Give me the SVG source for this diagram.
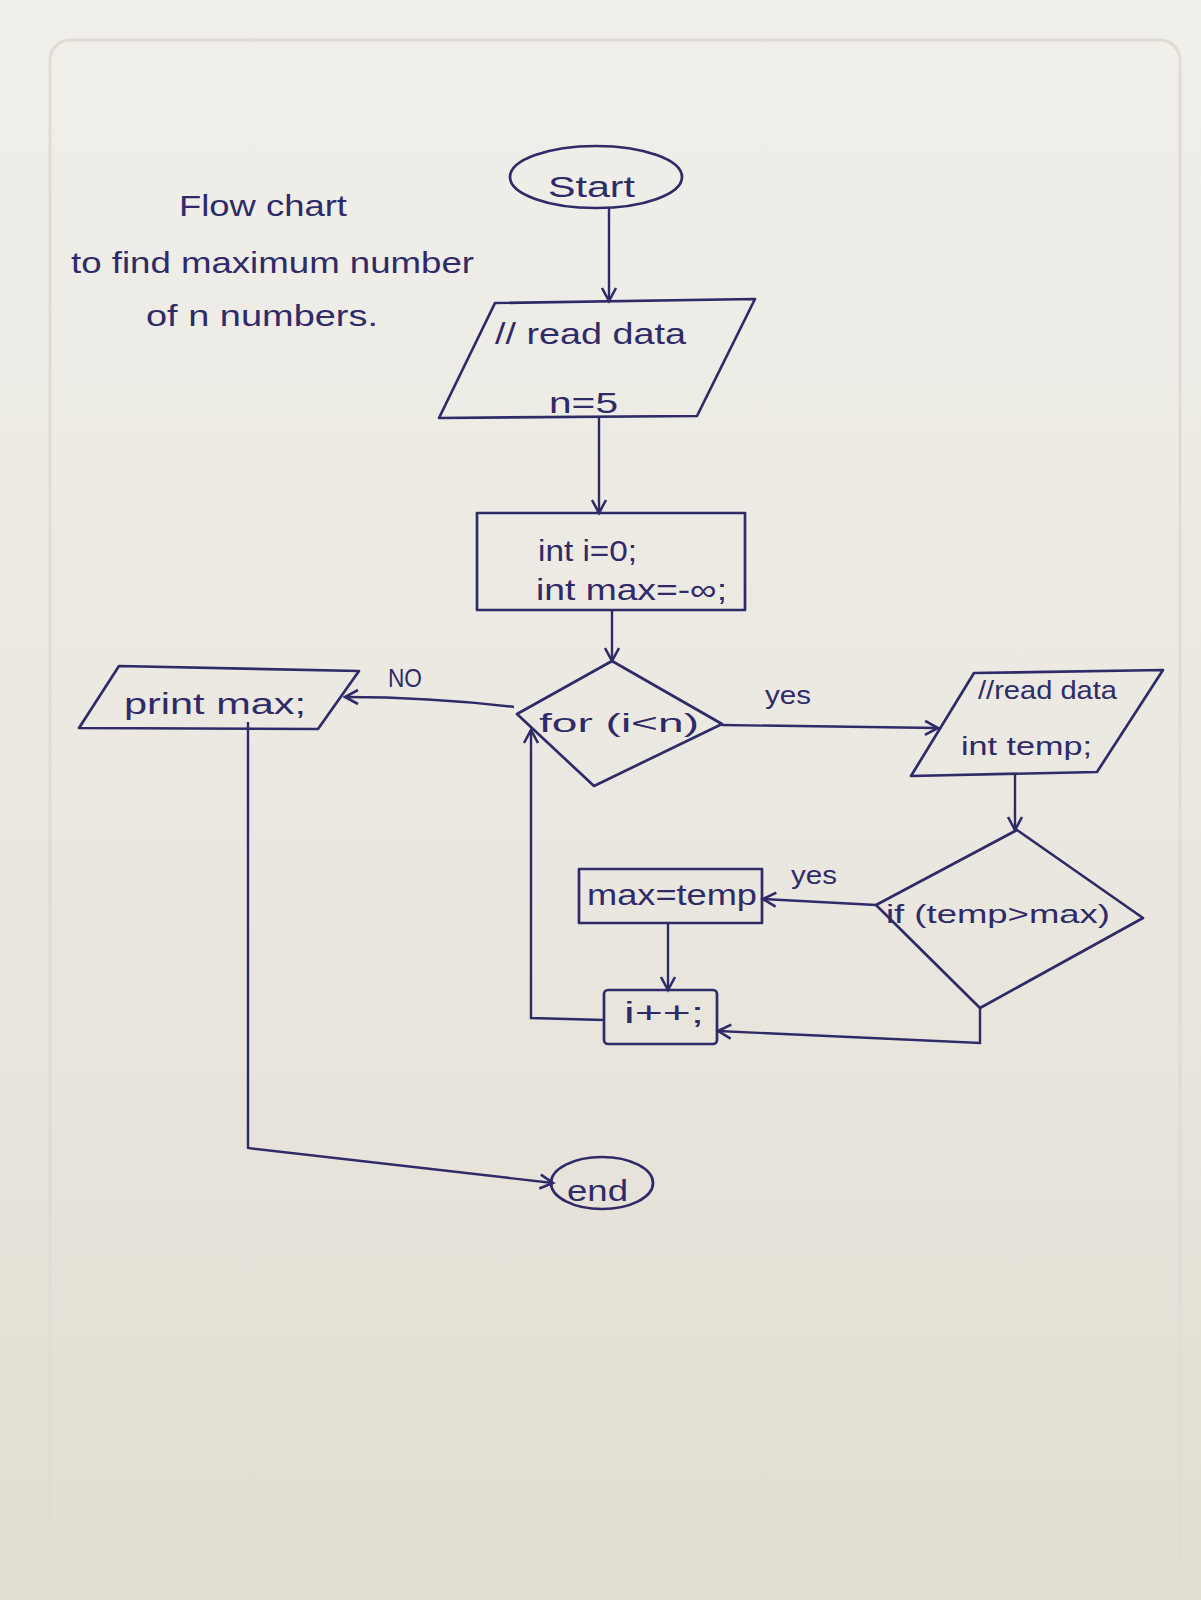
<svg xmlns="http://www.w3.org/2000/svg" width="1201" height="1600" viewBox="0 0 1201 1600">
<defs>
<linearGradient id="paper" x1="0" y1="0" x2="0" y2="1">
<stop offset="0" stop-color="#f1efea"/>
<stop offset="0.5" stop-color="#ebe8e1"/>
<stop offset="1" stop-color="#e2ddd2"/>
</linearGradient>
<marker id="arr" markerUnits="userSpaceOnUse" markerWidth="20" markerHeight="20" refX="15" refY="9" orient="auto">
<path d="M2,2 L15,9 L2,16" fill="none" stroke="#2e2b68" stroke-width="2.6"/>
</marker>
<style>
.s{fill:none;stroke:#2e2b68;stroke-width:2.7;stroke-linejoin:round;stroke-linecap:round}
.c{fill:none;stroke:#2e2b68;stroke-width:2.4;marker-end:url(#arr)}
.t{font-family:"Liberation Sans","DejaVu Sans",sans-serif;fill:#2e2b68;font-size:30px}
.sm{font-size:26px}
</style>
</defs>
<rect x="0" y="0" width="1201" height="1600" fill="url(#paper)"/>
<rect x="50" y="40" width="1130" height="1540" rx="20" fill="none" stroke="#e0dcd3" stroke-width="3"/>

<g id="title">
<text class="t" x="179" y="216" textLength="168" lengthAdjust="spacingAndGlyphs">Flow chart</text>
<text class="t" x="71" y="273" textLength="403" lengthAdjust="spacingAndGlyphs">to find maximum number</text>
<text class="t" x="146" y="326" textLength="232" lengthAdjust="spacingAndGlyphs">of n numbers.</text>
</g>

<g id="connectors">
<path class="c" d="M609,207 L609,301"/>
<path class="c" d="M599,418 L599,513"/>
<path class="c" d="M612,610 L612,661"/>
<path class="c" d="M514,707 Q430,697 345,697"/>
<path class="c" d="M722,725 L938,728"/>
<path class="c" d="M1015,774 L1015,830"/>
<path class="c" d="M876,905 L763,899"/>
<path class="c" d="M668,923 L668,990"/>
<path class="c" d="M980,1008 L980,1043 L718,1031"/>
<path class="c" d="M604,1020 L531,1018 L531,730"/>
<path class="c" d="M248,722 L248,1148 L553,1183"/>
<text class="t sm" x="388" y="687" textLength="34" lengthAdjust="spacingAndGlyphs">NO</text>
<text class="t sm" x="765" y="704" textLength="46" lengthAdjust="spacingAndGlyphs">yes</text>
<text class="t sm" x="791" y="884" textLength="46" lengthAdjust="spacingAndGlyphs">yes</text>
</g>

<g id="start">
<ellipse class="s" cx="596" cy="177" rx="86" ry="31"/>
<text class="t" x="548" y="197" textLength="87" lengthAdjust="spacingAndGlyphs">Start</text>
</g>

<g id="read-n">
<polygon class="s" points="495,303 755,299 697,416 439,418"/>
<text class="t" x="495" y="344" textLength="191" lengthAdjust="spacingAndGlyphs">// read data</text>
<text class="t" x="549" y="413" textLength="69" lengthAdjust="spacingAndGlyphs">n=5</text>
</g>

<g id="init">
<rect class="s" x="477" y="513" width="268" height="97"/>
<text class="t" x="538" y="561" textLength="99" lengthAdjust="spacingAndGlyphs">int i=0;</text>
<text class="t" x="536" y="600" textLength="191" lengthAdjust="spacingAndGlyphs">int max=-∞;</text>
</g>

<g id="for-cond">
<polygon class="s" points="612,661 722,724 594,786 517,714"/>
<text class="t sm" x="539" y="732" textLength="160" lengthAdjust="spacingAndGlyphs">for (i&lt;n)</text>
</g>

<g id="print-max">
<polygon class="s" points="119,666 359,671 318,729 79,728"/>
<text class="t" x="124" y="714" textLength="182" lengthAdjust="spacingAndGlyphs">print max;</text>
</g>

<g id="read-temp">
<polygon class="s" points="974,673 1163,670 1097,772 911,776"/>
<text class="t sm" x="978" y="699" textLength="139" lengthAdjust="spacingAndGlyphs">//read data</text>
<text class="t sm" x="961" y="755" textLength="131" lengthAdjust="spacingAndGlyphs">int temp;</text>
</g>

<g id="if-cond">
<polygon class="s" points="1017,830 1143,918 980,1008 876,905"/>
<text class="t sm" x="886" y="923" textLength="224" lengthAdjust="spacingAndGlyphs">if (temp&gt;max)</text>
</g>

<g id="assign">
<rect class="s" x="579" y="869" width="183" height="54"/>
<text class="t" x="587" y="905" textLength="170" lengthAdjust="spacingAndGlyphs">max=temp</text>
</g>

<g id="increment">
<rect class="s" x="604" y="990" width="113" height="54" rx="4"/>
<text class="t" x="624" y="1023" textLength="80" lengthAdjust="spacingAndGlyphs">i++;</text>
</g>

<g id="end">
<ellipse class="s" cx="602" cy="1183" rx="51" ry="26"/>
<text class="t" x="567" y="1201" textLength="61" lengthAdjust="spacingAndGlyphs">end</text>
</g>
</svg>
